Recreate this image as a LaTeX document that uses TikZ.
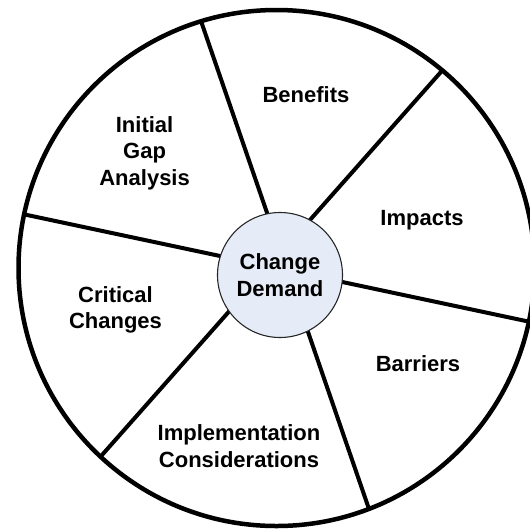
\documentclass[tikz,border=0pt]{standalone}
\usepackage{fontspec}
\setmainfont{Liberation Sans}
\definecolor{hubfill}{RGB}{230,236,247}
\begin{document}
\begin{tikzpicture}[x=1pt,y=-1pt,
  wheel/.style={circle,draw=black,line width=4.5pt,minimum size=516pt,inner sep=0pt,outer sep=0pt},
  spoke/.style={draw=black,line width=4pt},
  hub/.style={circle,draw=black!85,line width=1.1pt,fill=hubfill,minimum size=125pt,inner sep=0pt,outer sep=0pt,
    font=\bfseries\fontsize{22}{26.5}\selectfont,align=center},
  sector/.style={font=\bfseries\fontsize{22}{26.5}\selectfont,align=center,inner sep=0pt}]
  \useasboundingbox (0,0) rectangle (530,528);
  \clip (0,0) rectangle (530,528);
  % outer wheel
  \node[wheel] (rim) at (276.5,268) {};
  % three chords dividing the wheel into six sectors
  \draw[spoke] (rim.107.5) -- (rim.-69.7);
  \draw[spoke] (rim.50.1) -- (rim.227.9);
  \draw[spoke] (rim.168.4) -- (rim.-12.2);
  % central hub
  \node[hub] (hub) at (280,275) {Change\\Demand};
  % sector labels
  \node[sector] (benefits) at (306,95) {Benefits};
  \node[sector] (impacts) at (422,220) {Impacts};
  \node[sector] (barriers) at (418,364) {Barriers};
  \node[sector] (impl) at (239,446) {Implementation\\Considerations};
  \node[sector] (critical) at (115.5,310) {Critical\\Changes};
  \node[sector] (gap) at (144.6,153) {Initial\\Gap\\Analysis};
\end{tikzpicture}
\end{document}
